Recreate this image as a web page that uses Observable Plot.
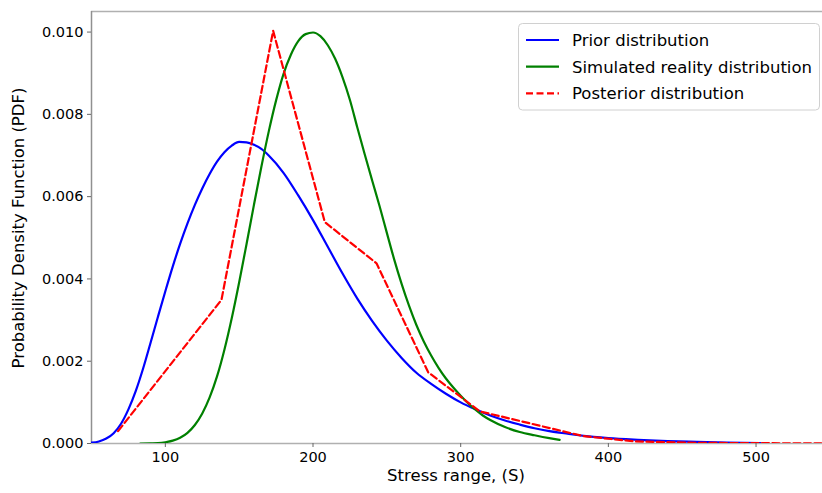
<!DOCTYPE html>
<html>
<head>
<meta charset="utf-8">
<script src="https://cdn.jsdelivr.net/npm/d3@7"></script>
<script src="https://cdn.jsdelivr.net/npm/@observablehq/plot@0.6"></script>
<style>
  html, body { margin: 0; padding: 0; background: #fff; }
  #chart { width: 822px; height: 493px; }
</style>
</head>
<body>
<div id="chart"></div>
<script>
// ---- Data ----
const priorX = [50, 55, 60, 65, 70, 75, 80, 85, 90, 95, 100, 105, 110, 115, 120, 125, 130, 135, 140, 145, 150, 155, 160, 165, 170, 180, 190, 200, 210, 220, 230, 240, 250, 260, 270, 280, 290, 300, 310, 320, 330, 340, 350, 360, 370, 380, 390, 400, 420, 440, 460, 480, 503];
const priorY = [0.00002, 0.00005, 0.00012, 0.00025, 0.00048, 0.00083, 0.00128, 0.00183, 0.00245, 0.00308, 0.00370, 0.00430, 0.00485, 0.00535, 0.00580, 0.00620, 0.00655, 0.00685, 0.00708, 0.00724, 0.00733, 0.00732, 0.00726, 0.00716, 0.00700, 0.00658, 0.00603, 0.00543, 0.00478, 0.00413, 0.00352, 0.00298, 0.00250, 0.00208, 0.00172, 0.00145, 0.00121, 0.00100, 0.00083, 0.00068, 0.00056, 0.00046, 0.00037, 0.00030, 0.00025, 0.00020, 0.00016, 0.00013, 0.00009, 0.00006, 0.00004, 0.00002, 0.00001];

const simX = [83, 90, 95, 100, 105, 110, 115, 120, 125, 130, 135, 140, 145, 150, 155, 160, 165, 170, 175, 180, 185, 190, 195, 200, 205, 210, 215, 220, 225, 230, 235, 240, 245, 250, 255, 260, 265, 270, 275, 280, 285, 290, 295, 300, 305, 310, 315, 320, 330, 340, 350, 360, 367];
const simY = [0.0, 0.000005, 0.00001, 0.00003, 0.00007, 0.00014, 0.00026, 0.00045, 0.00073, 0.00112, 0.00163, 0.00228, 0.00305, 0.00392, 0.00485, 0.00580, 0.00672, 0.00758, 0.00834, 0.00898, 0.00945, 0.00978, 0.00995, 0.00999, 0.00990, 0.00968, 0.00935, 0.00890, 0.00835, 0.00768, 0.00703, 0.00640, 0.00578, 0.00512, 0.00447, 0.00388, 0.00335, 0.00288, 0.00248, 0.00214, 0.00184, 0.00158, 0.00136, 0.00116, 0.00098, 0.00082, 0.00068, 0.00057, 0.00040, 0.00028, 0.00020, 0.00013, 0.00009];

const postX = [68, 138, 173, 208, 243, 278, 313, 348, 383, 418, 453, 488, 523, 558];
const postY = [0.00030, 0.00349, 0.01003, 0.00538, 0.00438, 0.00173, 0.00078, 0.00048, 0.00018, 0.00005, 0.00002, 0.00001, 0.000005, 0.0];

const seriesNames = ["Prior distribution", "Simulated reality distribution", "Posterior distribution"];
const xTicks = [100, 200, 300, 400, 500];
const yTicks = [0, 0.002, 0.004, 0.006, 0.008, 0.010];
const xLabel = "Stress range, (S)";
const yLabel = "Probability Density Function (PDF)";

// ---- Tables built from the arrays ----
const prior = priorX.map((x, i) => ({x, y: priorY[i]}));
const sim = simX.map((x, i) => ({x, y: simY[i]}));
const post = postX.map((x, i) => ({x, y: postY[i]}));

const colors = ["#0000ff", "#008000", "#ff0000"];
const dashes = [null, null, "7,3.5"];

const plot = Plot.plot({
  width: 822,
  height: 493,
  marginLeft: 91,
  marginRight: 0,
  marginTop: 11,
  marginBottom: 50,
  style: {fontFamily: "'DejaVu Sans', sans-serif", fontSize: "14.5px", color: "#000", background: "#fff"},
  x: {domain: [50, 545]},
  y: {domain: [0, 0.0105]},
  marks: [
    Plot.ruleY([0], {stroke: "#b0b0b0", strokeWidth: 1.5}),
    Plot.ruleY([0.0105], {stroke: "#b0b0b0", strokeWidth: 1.5}),
    Plot.ruleX([50], {stroke: "#909090", strokeWidth: 1.5}),
    Plot.line(prior, {x: "x", y: "y", stroke: colors[0], strokeWidth: 2.2, curve: "monotone-x", clip: true}),
    Plot.line(sim, {x: "x", y: "y", stroke: colors[1], strokeWidth: 2.2, curve: "monotone-x", clip: true}),
    Plot.line(post, {x: "x", y: "y", stroke: colors[2], strokeWidth: 2.2, strokeDasharray: dashes[2], clip: true}),
    Plot.axisX({ticks: xTicks, tickSize: 4, tickPadding: 4, label: null, stroke: "#666"}),
    Plot.axisY({ticks: yTicks, tickSize: 4, tickPadding: 4, tickFormat: d3.format(".3f"), label: null, stroke: "#666"})
  ]
});

const svg = d3.select(plot);
// Axis labels
svg.append("text")
  .attr("x", 456).attr("y", 481)
  .attr("text-anchor", "middle")
  .style("font-size", "16.5px")
  .attr("fill", "#000")
  .text(xLabel);
svg.append("text")
  .attr("transform", "translate(24,228) rotate(-90)")
  .attr("text-anchor", "middle")
  .style("font-size", "16.5px")
  .attr("fill", "#000")
  .text(yLabel);

// Legend
const lg = svg.append("g").attr("text-anchor", "start");
lg.append("rect")
  .attr("x", 518.5).attr("y", 23.5).attr("width", 301).attr("height", 86.5)
  .attr("rx", 4).attr("ry", 4)
  .attr("fill", "#fff").attr("fill-opacity", 0.8)
  .attr("stroke", "#d0d0d0").attr("stroke-width", 1);
const rowY = [40, 66.7, 93.3];
seriesNames.forEach((name, i) => {
  lg.append("line")
    .attr("x1", 526).attr("x2", 559)
    .attr("y1", rowY[i]).attr("y2", rowY[i])
    .attr("stroke", colors[i]).attr("stroke-width", 2.2)
    .attr("stroke-dasharray", dashes[i]);
  lg.append("text")
    .attr("x", 572).attr("y", rowY[i])
    .attr("dy", "0.36em")
    .attr("text-anchor", "start")
    .style("font-size", "16.5px")
    .attr("fill", "#000")
    .text(name);
});

document.getElementById("chart").appendChild(plot);
</script>
</body>
</html>
